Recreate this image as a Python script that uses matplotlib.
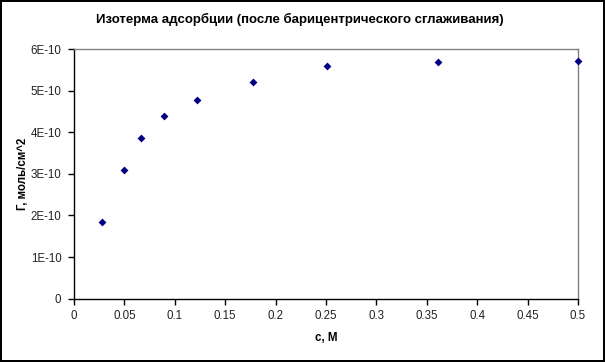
import matplotlib
matplotlib.use("Agg")
import matplotlib.pyplot as plt

plt.rcParams['font.family'] = ['Liberation Sans', 'DejaVu Sans']

# concentration, M
conc = [0.0281, 0.0499, 0.0665, 0.0896, 0.1223, 0.178, 0.2507, 0.3614, 0.5]
# adsorption, mol/cm^2
gamma = [1.84e-10, 3.09e-10, 3.86e-10, 4.38e-10, 4.77e-10,
         5.20e-10, 5.59e-10, 5.68e-10, 5.71e-10]

x_ticks = [0, 0.05, 0.1, 0.15, 0.2, 0.25, 0.3, 0.35, 0.4, 0.45, 0.5]
x_tick_labels = ["0", "0.05", "0.1", "0.15", "0.2", "0.25", "0.3",
                 "0.35", "0.4", "0.45", "0.5"]
y_ticks = [0, 1e-10, 2e-10, 3e-10, 4e-10, 5e-10, 6e-10]
y_tick_labels = ["0", "1E-10", "2E-10", "3E-10", "4E-10", "5E-10", "6E-10"]

fig = plt.figure(figsize=(6.05, 3.62), dpi=100)
fig.patch.set_edgecolor('black')
fig.patch.set_linewidth(1.5)
ax = fig.add_axes([0.1223, 0.1749, 0.8331, 0.6897])

ax.scatter(conc, gamma, marker='D', s=16, color='#000080', zorder=3,
           clip_on=False, linewidths=0)

ax.set_xlim(0, 0.5)
ax.set_ylim(0, 6e-10)
ax.set_xticks(x_ticks)
ax.set_xticklabels(x_tick_labels)
ax.set_yticks(y_ticks)
ax.set_yticklabels(y_tick_labels)
ax.tick_params(direction='out', length=4, width=1, labelsize=8.3,
               colors='black', labelcolor='#222222', pad=5)
ax.tick_params(axis='x', pad=4)

for side in ('top', 'right'):
    ax.spines[side].set_color('#808080')
    ax.spines[side].set_linewidth(1)
for side in ('left', 'bottom'):
    ax.spines[side].set_color('black')
    ax.spines[side].set_linewidth(1)

ax.set_xlabel("c, M", fontsize=8.3, fontweight='bold', labelpad=7)
ax.set_ylabel("Г, моль/см^2", fontsize=8.3, fontweight='bold', labelpad=1.5)
fig.text(0.496, 0.945, "Изотерма адсорбции (после барицентрического сглаживания)",
         ha='center', va='center', fontsize=9.5, fontweight='bold')

fig.savefig("out.png", dpi=100)
